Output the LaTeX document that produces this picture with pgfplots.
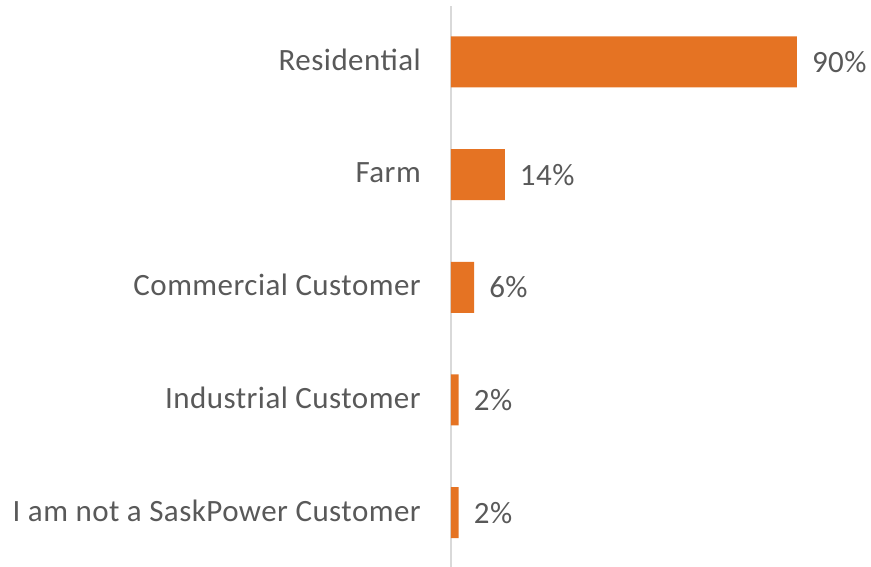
\documentclass[border=0pt]{standalone}
\usepackage{pgfplots}
\pgfplotsset{compat=1.18}
\usepackage{fontspec}
\setmainfont{Carlito}
\newfontfamily\lblfont[LetterSpace=1.5]{Carlito}
\definecolor{barc}{HTML}{E57323}
\definecolor{txt}{HTML}{595959}
\definecolor{axc}{HTML}{D9D9D9}
\begin{document}
\begin{tikzpicture}
\useasboundingbox (0,0) rectangle (871pt,567pt);
\begin{axis}[
  at={(451pt,-2pt)}, anchor=south west,
  scale only axis, width=420pt, height=563.4pt,
  xbar, bar width=51pt,
  xmin=0, xmax=109.3, ymin=-0.5, ymax=4.5,
  axis x line=none,
  axis y line*=left,
  y axis line style={draw=axc, line width=1.5pt, -},
  ytick={0,1,2,3,4},
  yticklabels={I am not a SaskPower Customer, Industrial Customer, Commercial Customer, Farm, Residential},
  major tick length=0pt,
  /pgf/number format/assume math mode=true,
  yticklabel style={anchor=east, inner sep=0pt, xshift=-30pt, yshift=2pt, font=\lblfont\fontsize{31}{36}\selectfont, text=txt},
  nodes near coords={\pgfmathprintnumber{\pgfplotspointmeta}\%},
  every node near coord/.append style={anchor=west, inner sep=0pt, xshift=15pt, font=\lblfont\fontsize{31}{36}\selectfont, text=txt},
  clip=false,
]
\addplot[fill=barc, draw=none] coordinates {(2,0) (2,1) (6,2) (14,3) (90,4)};
\end{axis}
\end{tikzpicture}
\end{document}
